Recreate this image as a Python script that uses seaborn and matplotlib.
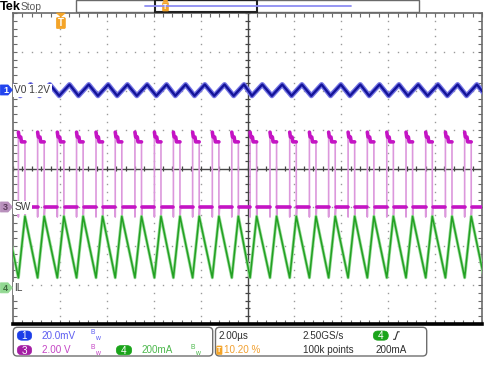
import numpy as np
import pandas as pd
import matplotlib
matplotlib.use("Agg")
import matplotlib.pyplot as plt
import seaborn as sns
from matplotlib.patches import FancyBboxPatch, Rectangle, Polygon

# ---------------- values read from the scope screen ----------------
# switching (SW rising edge) instants, microseconds from left edge
rise_us = [0.23, 1.05, 1.89, 2.71, 3.54, 4.36, 5.20, 6.03, 6.84, 7.66, 8.50, 9.33,
           10.11, 10.96, 11.80, 12.64, 13.46, 14.29, 15.11, 15.94, 16.76, 17.60, 18.44, 19.26]
on_time_us = 0.28
# inductor current IL (mA)
il_peak_ma = 368
il_valley_ma = 52
# output ripple Vo (mV, relative to channel marker)
vo_peak_mv = 2.8
vo_valley_mv = -3.0
vo_valley_delay_us = 0.08
vo_peak_delay_us = 0.52
# switch node SW (V)
sw_low_v = 0.0
sw_high_v = 3.35
sw_settle_v = 3.6
sw_overshoot_v = 3.85
sw_undershoot_v = -0.7
sw_pre_dip_v = -0.5

# channel settings (scale per division and marker position in divisions)
vo_scale_mv, vo_pos_div = 20.0, 2.02
sw_scale_v, sw_pos_div = 2.0, -0.99
il_scale_ma, il_pos_div = 200.0, -3.07
time_per_div_us = 2.0
n_hdiv, n_vdiv = 10, 8

# text
ch_labels = ["V0 1.2V", "SW", "IL"]
readout_left = [("1", "20.0mV"), ("3", "2.00 V"), ("4", "200mA")]
readout_right = ["2.00\u00b5s", "10.20 %", "2.50GS/s", "100k points", "200mA"]

# ---------------- style ----------------
sns.set_style("white")
plt.rcParams["font.family"] = ["Liberation Sans", "DejaVu Sans"]
plt.rcParams["mathtext.fontset"] = "custom"
plt.rcParams["mathtext.rm"] = "Liberation Sans"

C_VO_DARK, C_VO_LIGHT = "#14149a", "#7474e4"
C_SW_DARK, C_SW_LIGHT = "#c414c4", "#dc98dc"
C_IL_DARK, C_IL_LIGHT = "#22a022", "#96da96"
FS = 7.1

fig = plt.figure(figsize=(5.0, 3.74), dpi=100)
ax = fig.add_axes([13 / 500, 50 / 374, 469 / 500, 311 / 374])
tmax = n_hdiv * time_per_div_us
ax.set_xlim(0, tmax)
ax.set_ylim(-n_vdiv / 2, n_vdiv / 2)

# ---------------- build waveforms from the read values ----------------
period = float(np.mean(np.diff(rise_us)))
rises = [rise_us[0] - period] + list(rise_us) + [rise_us[-1] + period]

il_t, il_v = [], []
vo_t, vo_v = [], []
for r in rises:
    il_t += [r, r + on_time_us]
    il_v += [il_valley_ma, il_peak_ma]
    vo_t += [r + vo_valley_delay_us, r + vo_peak_delay_us]
    vo_v += [vo_valley_mv, vo_peak_mv]

il_df = pd.DataFrame({"t": il_t, "y": il_pos_div + np.array(il_v) / il_scale_ma})
vo_df = pd.DataFrame({"t": vo_t, "y": vo_pos_div + np.array(vo_v) / vo_scale_mv})

sw_full = []
sw_flat = []
seg = 0
for i, r in enumerate(rises):
    f = r + on_time_us
    pts = [(r, sw_low_v), (r, sw_pre_dip_v), (r, sw_overshoot_v), (r + 0.03, sw_settle_v),
           (r + 0.10, sw_settle_v), (r + 0.13, sw_high_v), (f, sw_high_v),
           (f, sw_undershoot_v), (f + 0.03, sw_low_v)]
    sw_full += pts
    high = [(r, sw_overshoot_v), (r + 0.03, sw_settle_v), (r + 0.10, sw_settle_v),
            (r + 0.13, sw_high_v), (f, sw_high_v)]
    sw_flat += [(t, v, seg) for t, v in high]
    seg += 1
    if i + 1 < len(rises):
        low = [(f + 0.03, sw_low_v), (rises[i + 1], sw_low_v)]
        sw_flat += [(t, v, seg) for t, v in low]
        seg += 1

sw_df = pd.DataFrame(sw_full, columns=["t", "v"])
sw_df["y"] = sw_pos_div + sw_df["v"] / sw_scale_v
sw_flat_df = pd.DataFrame(sw_flat, columns=["t", "v", "seg"])
sw_flat_df["y"] = sw_pos_div + sw_flat_df["v"] / sw_scale_v

# ---------------- graticule ----------------
grid_c = "#9a9a9a"
gx, gy = [], []
for k in range(1, n_hdiv):
    if k == n_hdiv // 2:
        continue
    ys = np.arange(-n_vdiv / 2, n_vdiv / 2 + 1e-9, 0.2)
    gx += [k * time_per_div_us] * len(ys)
    gy += list(ys)
for k in range(-n_vdiv // 2 + 1, n_vdiv // 2):
    if k == 0:
        continue
    xs = np.arange(0, tmax + 1e-9, 0.2 * time_per_div_us)
    gx += list(xs)
    gy += [k] * len(xs)
ax.plot(gx, gy, ls="none", marker="s", ms=1.0, mew=0, color=grid_c, zorder=1)

ax.axvline(tmax / 2, color="#454545", lw=1.0, zorder=1.5)
ax.axhline(0, color="#454545", lw=1.0, zorder=1.5)
xm = np.arange(0, tmax + 1e-9, 0.2 * time_per_div_us)
ym = np.arange(-n_vdiv / 2, n_vdiv / 2 + 1e-9, 0.2)
ax.vlines(xm, -0.065, 0.065, color="#454545", lw=0.9, zorder=1.5)
ax.hlines(ym, tmax / 2 - 0.1, tmax / 2 + 0.1, color="#454545", lw=0.9, zorder=1.5)

ax.set_xticks(np.arange(0, tmax + 1e-9, time_per_div_us))
ax.set_xticks(xm, minor=True)
ax.set_yticks(np.arange(-n_vdiv / 2, n_vdiv / 2 + 1e-9, 1))
ax.set_yticks(ym, minor=True)
ax.tick_params(which="both", direction="in", length=3, width=0.8, color="#6a6a6a",
               top=True, right=True, bottom=True, left=True,
               labelbottom=False, labelleft=False)
for s in ["left", "top", "right"]:
    ax.spines[s].set_color("#6a6a6a")
    ax.spines[s].set_linewidth(1.2)
ax.spines["bottom"].set_color("black")
ax.spines["bottom"].set_linewidth(2.6)

# ---------------- traces ----------------
sns.lineplot(data=vo_df, x="t", y="y", estimator=None, sort=False, color=C_VO_LIGHT, lw=3.6, ax=ax, zorder=3)
sns.lineplot(data=vo_df, x="t", y="y", estimator=None, sort=False, color=C_VO_DARK, lw=1.7, ax=ax, zorder=3.1)
sns.lineplot(data=sw_df, x="t", y="y", estimator=None, sort=False, color=C_SW_LIGHT, lw=1.2, ax=ax, zorder=3)
sns.lineplot(data=sw_flat_df, x="t", y="y", units="seg", estimator=None, sort=False,
             color=C_SW_DARK, lw=2.6, ax=ax, zorder=3.1)
sns.lineplot(data=il_df, x="t", y="y", estimator=None, sort=False, color=C_IL_LIGHT, lw=2.2, ax=ax, zorder=3)
sns.lineplot(data=il_df, x="t", y="y", estimator=None, sort=False, color=C_IL_DARK, lw=1.1, ax=ax, zorder=3.1)
ax.set_xlabel("")
ax.set_ylabel("")

# ---------------- overlay (pixel coordinates) ----------------
ov = fig.add_axes([0, 0, 1, 1], zorder=5)
ov.set_xlim(0, 500)
ov.set_ylim(374, 0)
ov.set_axis_off()


def px_y(div):
    return 168.5 - div * 311 / n_vdiv


# channel labels with white background (hide trace behind them)
lab_bbox = dict(boxstyle="square,pad=0.12", fc="white", ec="none")
for text, pos in zip(ch_labels, [vo_pos_div, sw_pos_div, il_pos_div]):
    ov.text(14.4, px_y(pos) + 0.5, text, fontsize=7.3, color="#3c3c3c", ha="left",
            va="center", bbox=lab_bbox)

# channel ground markers at the left edge
markers = [("1", vo_pos_div, "#2244ee", "white"),
           ("3", sw_pos_div, "#b890bc", "#5a3a5a"),
           ("4", il_pos_div, "#92d892", "#3e6a3e")]
for num, pos, fc, tc in markers:
    y = px_y(pos)
    ov.add_patch(Polygon([(0.5, y - 5), (8, y - 5), (12.3, y), (8, y + 5), (0.5, y + 5)],
                         closed=True, fc=fc, ec=fc, lw=0.6, joinstyle="round"))
    ov.text(5.6, y + 0.3, num, fontsize=6.5, color=tc, ha="center", va="center", fontweight="bold")

# header
ov.text(-0.5, 6.6, "Tek", fontsize=9.2, fontweight="bold", color="black", ha="left", va="center")
ov.text(20.7, 6.6, "Stop", fontsize=7.4, color="#5a5a5a", ha="left", va="center")
ov.add_patch(Rectangle((76, 0), 343, 12.3, fc="white", ec="#6a6a6a", lw=1.0))
ov.plot([145, 350.7], [5.7, 5.7], color="#8e8ef2", lw=1.3)
ov.add_patch(Rectangle((155.3, 0), 102, 12.3, fc="none", ec="#222222", lw=1.5))
ov.add_patch(FancyBboxPatch((163.2, 3.2), 4.6, 7.2, boxstyle="round,pad=0.6",
                            fc="#f4a428", ec="#f4a428", lw=0.5))
ov.plot([163.7, 167.3], [1.2, 1.2], color="#f4a428", lw=1.5)
ov.text(165.5, 7.0, "T", fontsize=5, color="white", ha="center", va="center", fontweight="bold")

# trigger position marker
tx = 13 + 0.102 * 469
ov.add_patch(Polygon([(tx - 4.5, 13), (tx + 4.5, 13), (tx, 16.8)], closed=True,
                     fc="#f4a428", ec="#f4a428", lw=0.5))
ov.add_patch(FancyBboxPatch((tx - 3.3, 18.8), 6.6, 8.6, boxstyle="round,pad=1.2",
                            fc="#f4a428", ec="#f4a428", lw=0.5))
ov.text(tx, 23.3, "T", fontsize=7, color="white", ha="center", va="center", fontweight="bold")

# bottom readout boxes
ov.add_patch(FancyBboxPatch((13.3, 327.3), 199.4, 28.7, boxstyle="round,pad=0,rounding_size=4",
                            fc="white", ec="#6e6e6e", lw=1.0))
ov.add_patch(FancyBboxPatch((215.5, 327.3), 211.2, 28.7, boxstyle="round,pad=0,rounding_size=4",
                            fc="white", ec="#6e6e6e", lw=1.0))

row1, row2 = 335.6, 350.2


def pill(x0, x1, y, fc, txt):
    ov.add_patch(FancyBboxPatch((x0, y - 4.6), x1 - x0, 9.2,
                                boxstyle="round,pad=0,rounding_size=4.6", fc=fc, ec=fc, lw=0.5))
    ov.text((x0 + x1) / 2, y + 0.4, txt, fontsize=7.2, color="white", ha="center", va="center")


BW = r"$\mathregular{{}^{B}{}_{w}}$"


def bw(x, y, color):
    ov.text(x, y, BW, fontsize=7.0, color=color, ha="left", va="center")


pill(17.3, 31.7, row1, "#1c3ee8", readout_left[0][0])
ov.text(41.7, row1, readout_left[0][1], fontsize=FS, color="#5c5cf0", ha="left", va="center")
bw(89.6, row1, "#5c5cf0")
pill(17.3, 31.7, row2, "#a41ea4", readout_left[1][0])
ov.text(41.7, row2, readout_left[1][1], fontsize=FS, color="#c444c4", ha="left", va="center")
bw(89.6, row2, "#c444c4")
pill(116.3, 131.7, row2, "#1aa41a", readout_left[2][0])
ov.text(141.8, row2, readout_left[2][1], fontsize=FS, color="#4cb84c", ha="left", va="center")
bw(189.5, row2, "#4cb84c")

ov.text(218.2, row1, readout_right[0], fontsize=FS, color="#2e2e2e", ha="left", va="center")
ov.add_patch(FancyBboxPatch((217.4, row2 - 3.6), 4.0, 7.2, boxstyle="round,pad=0.6",
                            fc="#f4a428", ec="#f4a428", lw=0.5))
ov.text(219.4, row2 + 0.3, "T", fontsize=5, color="white", ha="center", va="center", fontweight="bold")
ov.text(224.2, row2, readout_right[1], fontsize=FS, color="#f2a030", ha="left", va="center")
ov.text(302.7, row1, readout_right[2], fontsize=FS, color="#2e2e2e", ha="left", va="center")
ov.text(302.7, row2, readout_right[3], fontsize=FS, color="#2e2e2e", ha="left", va="center")
pill(373.3, 388.3, row1, "#1aa41a", "4")
ov.plot([393.5, 395.2, 397.6, 399.3], [339.3, 339.3, 331.8, 331.8], color="#2e2e2e", lw=0.8)
ov.text(376.0, row2, readout_right[4], fontsize=FS, color="#2e2e2e", ha="left", va="center")

fig.savefig("out.png", dpi=100, facecolor="white")
